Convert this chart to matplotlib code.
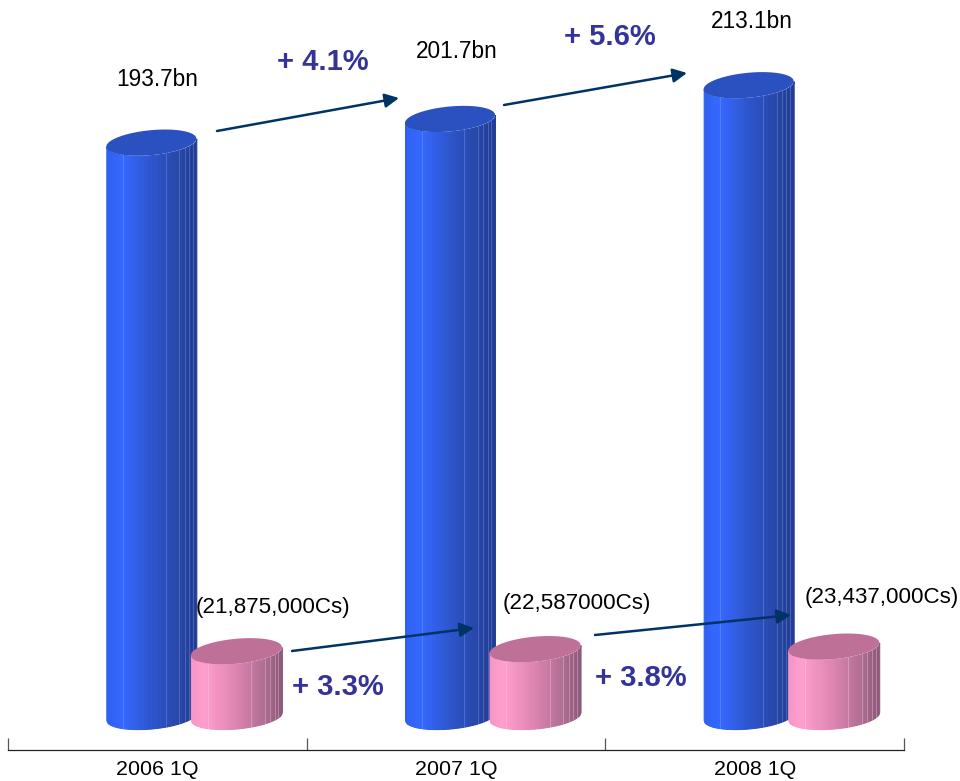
import numpy as np
import matplotlib
matplotlib.use("Agg")
import matplotlib.pyplot as plt
from matplotlib.colors import LinearSegmentedColormap

plt.rcParams['font.family'] = ['Liberation Sans', 'DejaVu Sans']

# values
quarters = ['2006 1Q', '2007 1Q', '2008 1Q']
sales_bn = [193.7, 201.7, 213.1]
cases_m = [21.875, 22.587, 23.437]
sales_labels = ['193.7bn', '201.7bn', '213.1bn']
cases_labels = ['(21,875,000Cs)', '(22,587000Cs)', '(23,437,000Cs)']
sales_growth = ['+ 4.1%', '+ 5.6%']
cases_growth = ['+ 3.3%', '+ 3.8%']

W, H = 960, 781
PX_PER_UNIT = 2.96     # pixels for one unit on the y axis
PX_PER_CAT = 298.5
BASE_PX = 716          # pixel row of value 0

fig = plt.figure(figsize=(9.6, 7.81), dpi=100)
ax = fig.add_axes([8 / W, 1 - 750 / H, (904 - 8) / W, 750 / H])
ax.set_xlim(-0.5, 2.5)
ax.set_ylim(-(750 - BASE_PX) / PX_PER_UNIT, BASE_PX / PX_PER_UNIT)
ax.patch.set_alpha(0)
for s in ['top', 'left', 'right']:
    ax.spines[s].set_visible(False)
ax.spines['bottom'].set_color('#222222')
ax.spines['bottom'].set_linewidth(0.9)
ax.set_yticks([])
ax.set_xticks([-0.5, 0.5, 1.5, 2.5])
ax.set_xticklabels([])
ax.tick_params(axis='x', which='major', direction='in', length=9, width=0.9, color='#555555')
ax.set_xticks([0, 1, 2], minor=True)
ax.set_xticklabels(quarters, minor=True, fontsize=15.4, color='black')
ax.tick_params(axis='x', which='minor', length=0, pad=7)

blue_cmap = LinearSegmentedColormap.from_list('b', [(0, '#2f60f0'), (0.18, '#3468ff'), (0.5, '#2d55cc'),
                                                    (0.8, '#2746a8'), (1, '#223c90')])
pink_cmap = LinearSegmentedColormap.from_list('p', [(0, '#f796c4'), (0.15, '#ff9fcd'), (0.5, '#dd84b0'),
                                                    (0.8, '#b06f94'), (1, '#8c5878')])


def cylinder(xc, value, half_w, half_h, tilt, cmap, top_color, line_color, z, n=40):
    # half_w in category units, half_h and tilt in y units
    edges = np.linspace(-1, 1, n + 1)
    mids = (edges[:-1] + edges[1:]) / 2
    for i, m in enumerate(mids):
        seg = np.linspace(edges[i], edges[i + 1], 5)
        low = -half_h * np.sqrt(1 - seg ** 2) + tilt * seg
        top = value - half_h * np.sqrt(1 - seg ** 2) + tilt * seg
        c = cmap((m + 1) / 2)
        ax.fill_between(xc + seg * half_w, low, top, facecolor=c, edgecolor=c, lw=0.7, zorder=z)
    # thin light facet lines like the 3d effect
    for f in [-0.63, 0.32, 0.62, 0.74, 0.84, 0.92]:
        low = -half_h * np.sqrt(1 - f ** 2) + tilt * f
        top = value - half_h * np.sqrt(1 - f ** 2) + tilt * f
        ax.plot([xc + f * half_w] * 2, [low, top], color=line_color, lw=0.6, alpha=0.4, zorder=z + 0.1)
    t = np.linspace(0, 2 * np.pi, 120)
    ax.fill(xc + half_w * np.cos(t), value + half_h * np.sin(t) + tilt * np.cos(t),
            color=top_color, lw=0, zorder=z + 0.2)


blue_half_w = 45 / PX_PER_CAT
pink_half_w = 45.5 / PX_PER_CAT
for i in range(3):
    cylinder(i - 6 / PX_PER_CAT, sales_bn[i], blue_half_w, 12.5 / PX_PER_UNIT, 4 / PX_PER_UNIT,
             blue_cmap, '#2b50c0', '#8fa8ff', 2 + i * 2)
    cylinder(i + 79 / PX_PER_CAT, cases_m[i], pink_half_w, 12.5 / PX_PER_UNIT, 4 / PX_PER_UNIT,
             pink_cmap, '#bf7097', '#ffd5e8', 3 + i * 2)


def figpos(x, y):
    return (x / W, 1 - y / H)


# text positions in pixels of the figure
sales_label_pos = [(157, 79), (457, 51), (752, 22)]
cases_label_pos = [(273, 607), (577, 603), (882, 598)]
sales_growth_pos = [(323, 62), (610, 37)]
cases_growth_pos = [(338, 687), (641, 678)]
sales_arrows = [((217, 131), (399, 98)), ((504, 105), (687, 73))]
cases_arrows = [((292, 651), (474, 628)), ((595, 635), (791, 615))]

for lab, p in zip(sales_labels, sales_label_pos):
    fig.text(*figpos(*p), lab, fontsize=16.3, ha='center', va='center', color='black')
for lab, p in zip(cases_labels, cases_label_pos):
    fig.text(*figpos(*p), lab, fontsize=16.1, ha='center', va='center', color='black', zorder=20)
for lab, p in zip(sales_growth + cases_growth, sales_growth_pos + cases_growth_pos):
    fig.text(*figpos(*p), lab, fontsize=21, fontweight='bold', ha='center', va='center', color='#333399')

for a, b in sales_arrows + cases_arrows:
    ax.annotate('', xy=figpos(*b), xytext=figpos(*a), xycoords='figure fraction', textcoords='figure fraction',
                arrowprops=dict(arrowstyle='-|>', color='#003366', lw=1.8, mutation_scale=21,
                                shrinkA=0, shrinkB=0), zorder=30)

fig.savefig('out.png', dpi=100, facecolor='white')
